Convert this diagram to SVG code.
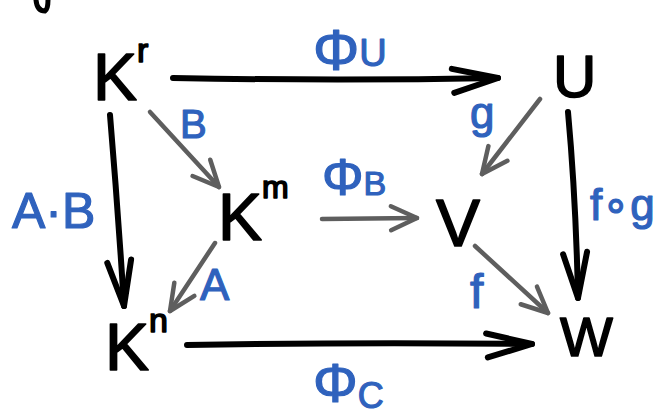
<svg xmlns="http://www.w3.org/2000/svg" width="655" height="419" viewBox="0 0 655 419">
<style>
.node{font-family:"Liberation Sans",Arial,sans-serif;fill:#000;stroke:#000;stroke-width:1.6;stroke-linejoin:round}
.lbl{font-family:"Liberation Sans",Arial,sans-serif;fill:#2f62bd;stroke:#2f62bd;stroke-width:1.2;stroke-linejoin:round}
.blk{fill:none;stroke:#000;stroke-width:6;stroke-linecap:round;stroke-linejoin:round}
.gry{fill:none;stroke:#5e5e5e;stroke-width:4.5;stroke-linecap:round;stroke-linejoin:round}
</style>
<defs>
<marker id="hb" markerUnits="userSpaceOnUse" viewBox="-52 -22 56 44" refX="0" refY="0" markerWidth="56" markerHeight="44" orient="auto" overflow="visible">
<path d="M-46,-10 L0,0 L-44,14" fill="none" stroke="#000" stroke-width="6" stroke-linecap="round" stroke-linejoin="round"/>
</marker>
<marker id="hg" markerUnits="userSpaceOnUse" viewBox="-32 -18 36 36" refX="0" refY="0" markerWidth="36" markerHeight="36" orient="auto" overflow="visible">
<path d="M-26,-12 L0,0 L-26,12" fill="none" stroke="#5e5e5e" stroke-width="4.5" stroke-linecap="round" stroke-linejoin="round"/>
</marker>
</defs>
<rect width="655" height="419" fill="#fff"/>
<path d="M36,0 Q37,11 45,11 Q48,9 48,0" fill="none" stroke="#000" stroke-width="5" stroke-linecap="round"/>
<g id="connectors">
<path class="blk" d="M173,78 Q340,81 498,78" marker-end="url(#hb)"/>
<path class="blk" d="M110,115 Q118,210 124,306" marker-end="url(#hb)"/>
<path class="blk" d="M568,112 Q576,200 578,298" marker-end="url(#hb)"/>
<path class="blk" d="M187,345 Q360,342 532,344" marker-end="url(#hb)"/>
<path class="gry" d="M150,112 L219,187" marker-end="url(#hg)"/>
<path class="gry" d="M322,219 L417,218" marker-end="url(#hg)"/>
<path class="gry" d="M540,99 L482,174" marker-end="url(#hg)"/>
<path class="gry" d="M215,243 L170,311" marker-end="url(#hg)"/>
<path class="gry" d="M475,246 L548,313" marker-end="url(#hg)"/>
<text class="lbl" x="313" y="70" font-size="58">Φ<tspan font-size="38" dy="-4">U</tspan></text>
<text class="lbl" x="180" y="138" font-size="40">B</text>
<text class="lbl" x="12" y="228" font-size="50">A·B</text>
<text class="lbl" x="322" y="195" font-size="52">Φ<tspan font-size="34" dy="0">B</tspan></text>
<text class="lbl" x="200" y="300" font-size="44">A</text>
<text class="lbl" x="470" y="128" font-size="44">g</text>
<text class="lbl" x="590" y="220" font-size="44">f∘g</text>
<text class="lbl" x="470" y="308" font-size="48">f</text>
<text class="lbl" x="313" y="402" font-size="56">Φ<tspan font-size="36" dy="6">C</tspan></text>
</g>
<g id="Kr"><text class="node" x="93" y="100" font-size="66">K<tspan font-size="34" dy="-38">r</tspan></text></g>
<g id="Km"><text class="node" x="218" y="240" font-size="66">K<tspan font-size="32" dy="-42">m</tspan></text></g>
<g id="Kn"><text class="node" x="105" y="370" font-size="66">K<tspan font-size="34" dy="-38">n</tspan></text></g>
<g id="U"><text class="node" x="553" y="97" font-size="60">U</text></g>
<g id="V"><text class="node" x="436" y="246" font-size="66">V</text></g>
<g id="W"><text class="node" x="560" y="356" font-size="56">W</text></g>
</svg>
